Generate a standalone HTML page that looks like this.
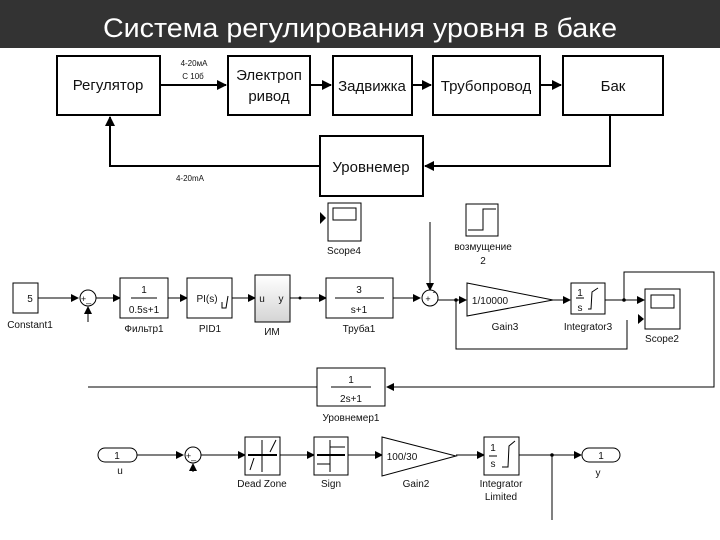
<!DOCTYPE html>
<html><head><meta charset="utf-8"><style>
html,body{margin:0;padding:0;background:#fff}
svg{display:block}
text{font-family:"Liberation Sans",sans-serif;fill:#111}
</style></head><body>
<svg width="720" height="540" viewBox="0 0 720 540" xmlns="http://www.w3.org/2000/svg">
<defs>
<marker id="a" markerWidth="8" markerHeight="8" refX="7" refY="4" orient="auto" markerUnits="userSpaceOnUse"><path d="M0,0 L8,4 L0,8 z" fill="#000"/></marker>
<marker id="b" markerWidth="10" markerHeight="10" refX="9" refY="5" orient="auto" markerUnits="userSpaceOnUse"><path d="M0,0 L10,5 L0,10 z" fill="#000"/></marker>
<linearGradient id="g" x1="0" y1="0" x2="0" y2="1"><stop offset="0" stop-color="#fff"/><stop offset="1" stop-color="#d4d4d4"/></linearGradient>
</defs>
<rect x="0" y="0" width="720" height="48" fill="#333"/>
<text x="103" y="37" font-size="27" textLength="514" lengthAdjust="spacingAndGlyphs" style="fill:#fff">Система регулирования уровня в баке</text>

<g stroke="#000" stroke-width="2" fill="#fff">
<rect x="57" y="56" width="103" height="59"/>
<rect x="228" y="56" width="82" height="59"/>
<rect x="333" y="56" width="79" height="59"/>
<rect x="433" y="56" width="107" height="59"/>
<rect x="563" y="56" width="100" height="59"/>
<rect x="320" y="136" width="103" height="60"/>
</g>
<g stroke="#000" stroke-width="2" fill="none" marker-end="url(#b)">
<line x1="160" y1="85" x2="226" y2="85"/>
<line x1="310" y1="85" x2="331" y2="85"/>
<line x1="412" y1="85" x2="431" y2="85"/>
<line x1="540" y1="85" x2="561" y2="85"/>
<polyline points="610,115 610,166 425,166"/>
<polyline points="320,166 110,166 110,117"/>
</g>
<g font-size="15" text-anchor="middle">
<text x="108" y="90">Регулятор</text>
<text x="269" y="80">Электроп</text><text x="269" y="101">ривод</text>
<text x="372" y="91">Задвижка</text>
<text x="486" y="91">Трубопровод</text>
<text x="613" y="91">Бак</text>
<text x="371" y="172">Уровнемер</text>
</g>
<g font-size="8" text-anchor="middle"><text x="194" y="66">4-20мА</text><text x="193" y="79">С 10б</text><text x="190" y="181">4-20mA</text></g>

<g font-size="10" text-anchor="middle" stroke="none">
<rect x="328" y="203" width="33" height="38" fill="#fff" stroke="#000"/><rect x="333" y="208" width="23" height="12" fill="#fff" stroke="#000"/>
<path d="M320,212 L326,218 L320,224z" fill="#000"/>
<text x="344" y="254">Scope4</text>
<rect x="466" y="204" width="32" height="32" fill="#fff" stroke="#000"/><polyline points="468,230 483,230 483,209 496,209" fill="none" stroke="#000"/>
<text x="483" y="250">возмущение</text><text x="483" y="264">2</text>
</g>
<g stroke="#000" stroke-width="1" fill="none">
<line x1="430" y1="222" x2="430" y2="290" marker-end="url(#a)"/>
<line x1="38" y1="298" x2="78" y2="298" marker-end="url(#a)"/>
<line x1="96" y1="298" x2="120" y2="298" marker-end="url(#a)"/>
<line x1="168" y1="298" x2="187" y2="298" marker-end="url(#a)"/>
<line x1="232" y1="298" x2="255" y2="298" marker-end="url(#a)"/>
<line x1="290" y1="298" x2="326" y2="298" marker-end="url(#a)"/>
<line x1="393" y1="298" x2="420" y2="298" marker-end="url(#a)"/>
<line x1="438" y1="300" x2="466" y2="300" marker-end="url(#a)"/>
<line x1="553" y1="300" x2="570" y2="300" marker-end="url(#a)"/>
<line x1="605" y1="300" x2="644" y2="300" marker-end="url(#a)"/>
<polyline points="456,300 456,349 627,349 627,320"/>
<polyline points="624,300 624,272 714,272 714,387 387,387" marker-end="url(#a)"/>
<polyline points="317,387 88,387"/>
<line x1="88" y1="322" x2="88" y2="307" marker-end="url(#a)"/>
</g>
<g fill="#000"><circle cx="624" cy="300" r="1.8"/><circle cx="456" cy="300" r="1.8"/><circle cx="300" cy="298" r="1.5"/><path d="M638,314 L644,319 L638,324z"/></g>

<g stroke="#000" stroke-width="1" fill="#fff">
<rect x="13" y="283" width="25" height="30"/>
<circle cx="88" cy="298" r="8"/>
<rect x="120" y="278" width="48" height="40"/>
<rect x="187" y="278" width="45" height="40"/>
<rect x="255" y="275" width="35" height="47" fill="url(#g)"/>
<rect x="326" y="278" width="67" height="40"/>
<circle cx="430" cy="298" r="8"/>
<polygon points="467,283 553,300 467,316"/>
<rect x="571" y="283" width="34" height="31"/>
<rect x="645" y="289" width="35" height="40"/>
<rect x="651" y="295" width="23" height="13"/>
<rect x="317" y="368" width="68" height="38"/>
</g>
<g stroke="#000" stroke-width="1" fill="none">
<line x1="131" y1="298" x2="157" y2="298"/>
<line x1="335" y1="298" x2="384" y2="298"/>
<line x1="331" y1="387" x2="371" y2="387"/>
<line x1="576" y1="298" x2="584" y2="298"/>
<path d="M588,309 L591,309 L592,292 L598,288"/>
<path d="M222,302 L222,308 L226,308 L228,296"/>
</g>
<g font-size="10" text-anchor="middle">
<text x="30" y="302">5</text><text x="30" y="328">Constant1</text>
<text x="86" y="302" font-size="9">+_</text>
<text x="144" y="293">1</text><text x="144" y="313">0.5s+1</text><text x="144" y="332">Фильтр1</text>
<text x="207" y="302">PI(s)</text><text x="210" y="332">PID1</text>
<text x="262" y="302">u</text><text x="281" y="302">y</text><text x="272" y="335">ИМ</text>
<text x="359" y="293">3</text><text x="359" y="313">s+1</text><text x="359" y="332">Труба1</text>
<text x="428" y="302" font-size="9">+</text><text x="434" y="295" font-size="9">-</text>
<text x="490" y="304">1/10000</text><text x="505" y="330">Gain3</text>
<text x="580" y="296">1</text><text x="580" y="311">s</text><text x="588" y="330">Integrator3</text>
<text x="662" y="342">Scope2</text>
<text x="351" y="383">1</text><text x="351" y="402">2s+1</text><text x="351" y="421">Уровнемер1</text>
</g>

<g stroke="#000" stroke-width="1" fill="none">
<line x1="137" y1="455" x2="183" y2="455" marker-end="url(#a)"/>
<line x1="201" y1="455" x2="245" y2="455" marker-end="url(#a)"/>
<line x1="280" y1="455" x2="314" y2="455" marker-end="url(#a)"/>
<line x1="348" y1="455" x2="382" y2="455" marker-end="url(#a)"/>
<line x1="456" y1="455" x2="484" y2="455" marker-end="url(#a)"/>
<line x1="519" y1="455" x2="581" y2="455" marker-end="url(#a)"/>
<line x1="552" y1="455" x2="552" y2="520"/>
<line x1="193" y1="472" x2="193" y2="464" marker-end="url(#a)"/>
</g>
<circle cx="552" cy="455" r="1.8" fill="#000"/>
<g stroke="#000" stroke-width="1" fill="#fff">
<rect x="98" y="448" width="39" height="14" rx="7"/>
<circle cx="193" cy="455" r="8"/>
<rect x="245" y="437" width="35" height="38"/>
<rect x="314" y="437" width="34" height="38"/>
<polygon points="382,437 456,456 382,476"/>
<rect x="484" y="437" width="35" height="38"/>
<rect x="582" y="448" width="38" height="14" rx="7"/>
</g>
<g stroke="#000" stroke-width="1" fill="none">
<line x1="248" y1="455" x2="277" y2="455" stroke-width="2"/><line x1="262" y1="440" x2="262" y2="472"/>
<path d="M250,470 L254,458 M270,452 L276,440"/>
<line x1="317" y1="455" x2="345" y2="455" stroke-width="2"/><line x1="330" y1="440" x2="330" y2="472"/>
<path d="M317,464 L330,464 M330,447 L345,447"/>
<line x1="489" y1="456" x2="497" y2="456"/>
<path d="M502,467 L508,467 L509,446 L515,441"/>
</g>
<g font-size="10" text-anchor="middle">
<text x="117" y="459">1</text><text x="120" y="474">u</text>
<text x="191" y="459" font-size="9">+_</text>
<text x="262" y="487">Dead Zone</text>
<text x="331" y="487">Sign</text>
<text x="402" y="460">100/30</text><text x="416" y="487">Gain2</text>
<text x="493" y="451">1</text><text x="493" y="467">s</text>
<text x="501" y="487">Integrator</text><text x="501" y="500">Limited</text>
<text x="601" y="459">1</text><text x="598" y="476">y</text>
</g>
</svg>
</body></html>
